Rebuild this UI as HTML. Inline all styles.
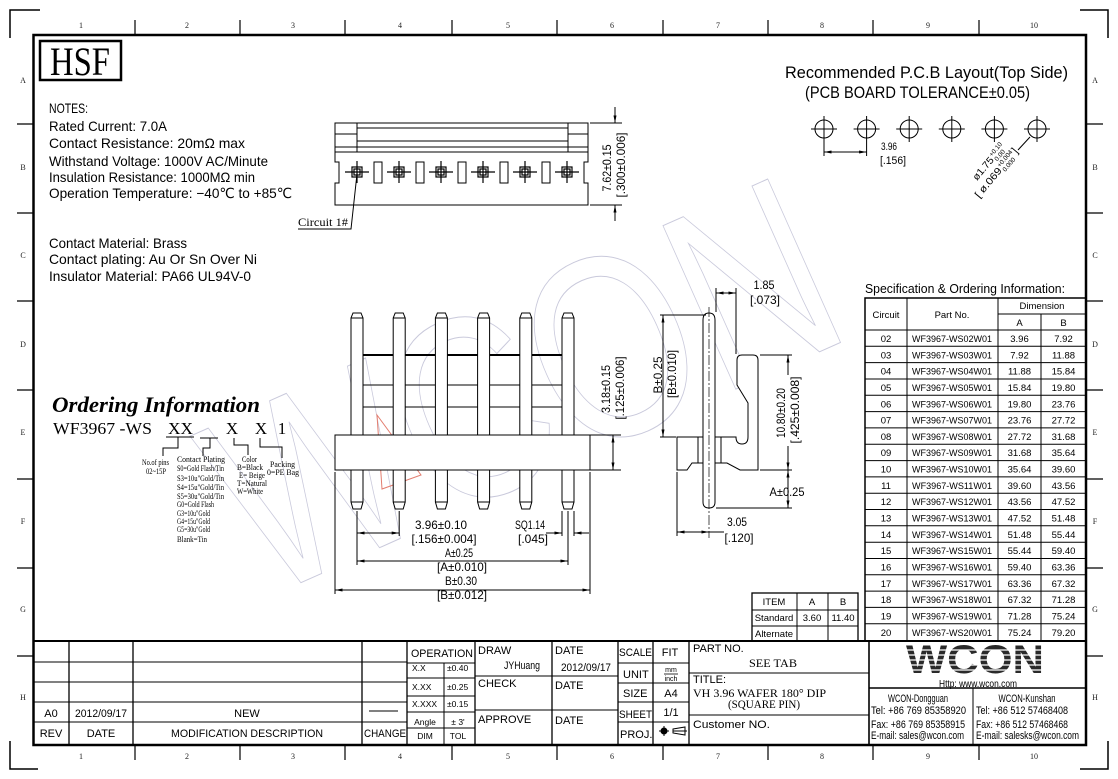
<!DOCTYPE html>
<html><head><meta charset="utf-8"><style>
html,body{margin:0;padding:0;background:#fff;}
svg{display:block;font-family:"Liberation Sans","DejaVu Sans",sans-serif;}
text{fill:#000;}
.s{font-family:"Liberation Serif","DejaVu Serif",serif;}
.z{font-family:"Liberation Serif","DejaVu Serif",serif;font-size:8px;text-anchor:middle;}
.z text{fill:#222;}
.n{font-size:14px;}
.d{font-size:12px;text-anchor:middle;}
.t{font-size:9.5px;text-anchor:middle;}
.o{font-family:"Liberation Serif","DejaVu Serif",serif;font-size:8px;}
.m{text-anchor:middle;}
</style></head><body>
<svg width="1118" height="779" viewBox="0 0 1118 779" xmlns="http://www.w3.org/2000/svg">
<defs>
<marker id="a" viewBox="0 0 10 4" refX="10" refY="2" markerWidth="8" markerHeight="3" orient="auto-start-reverse" markerUnits="userSpaceOnUse"><path d="M0,0 L10,2 L0,4 z" fill="#000"/></marker>
</defs>
<rect width="1118" height="779" fill="#fff"/>

<!-- watermark -->
<g opacity="0.9">
<text transform="translate(262,600) rotate(-24)" font-size="260" textLength="650" lengthAdjust="spacingAndGlyphs" stroke="#c4c4d8" stroke-width="1" style="fill:none">WCON</text>
<polygon points="377,415 421,475 382,489" fill="none" stroke="#e07060" stroke-width="1"/>
</g>

<!-- frame -->
<rect x="33.5" y="35" width="1052.5" height="710" fill="none" stroke="#000" stroke-width="2.5"/>
<g stroke="#000" stroke-width="1.5" fill="none">
<path d="M10,38 V10 H40 M1080,10 H1108 V38 M10,741 V769 H38 M1080,769 H1108 V741"/>
</g>
<g stroke="#000" stroke-width="1.2">
<path d="M135,20 V35 M240,20 V35 M345,20 V35 M452,20 V35 M557,20 V35 M663,20 V35 M768,20 V35 M873,20 V35 M979,20 V35"/>
<path d="M135,745 V760 M240,745 V760 M345,745 V760 M452,745 V760 M557,745 V760 M663,745 V760 M768,745 V760 M873,745 V760 M979,745 V760"/>
<path d="M17,124 H33 M17,213 H33 M17,301 H33 M17,390 H33 M17,479 H33 M17,568 H33 M17,656 H33"/>
<path d="M1086,124 H1103 M1086,213 H1103 M1086,301 H1103 M1086,390 H1103 M1086,479 H1103 M1086,568 H1103 M1086,656 H1103"/>
</g>
<g class="z">
<text x="81" y="28">1</text><text x="187" y="28">2</text><text x="293" y="28">3</text><text x="400" y="28">4</text><text x="508" y="28">5</text><text x="612" y="28">6</text><text x="718" y="28">7</text><text x="822" y="28">8</text><text x="928" y="28">9</text><text x="1034" y="28">10</text>
<text x="81" y="759">1</text><text x="187" y="759">2</text><text x="293" y="759">3</text><text x="400" y="759">4</text><text x="508" y="759">5</text><text x="612" y="759">6</text><text x="718" y="759">7</text><text x="822" y="759">8</text><text x="928" y="759">9</text><text x="1034" y="759">10</text>
<text x="23" y="83">A</text><text x="23" y="170">B</text><text x="23" y="258">C</text><text x="23" y="347">D</text><text x="23" y="435">E</text><text x="23" y="524">F</text><text x="23" y="612">G</text><text x="23" y="700">H</text>
<text x="1095" y="83">A</text><text x="1095" y="170">B</text><text x="1095" y="258">C</text><text x="1095" y="347">D</text><text x="1095" y="435">E</text><text x="1095" y="524">F</text><text x="1095" y="612">G</text><text x="1095" y="700">H</text>
</g>

<!-- HSF -->
<rect x="40" y="41" width="81" height="39" fill="none" stroke="#000" stroke-width="2.5"/>
<text class="s" x="50" y="75" font-size="40" textLength="60" lengthAdjust="spacingAndGlyphs">HSF</text>

<!-- notes -->
<g class="n">
<text x="49" y="113" textLength="39" lengthAdjust="spacingAndGlyphs">NOTES:</text>
<text x="49" y="131" textLength="118" lengthAdjust="spacingAndGlyphs">Rated Current: 7.0A</text>
<text x="49" y="148" textLength="196" lengthAdjust="spacingAndGlyphs">Contact Resistance: 20mΩ   max</text>
<text x="49" y="166" textLength="219" lengthAdjust="spacingAndGlyphs">Withstand Voltage: 1000V AC/Minute</text>
<text x="49" y="182" textLength="206" lengthAdjust="spacingAndGlyphs">Insulation Resistance: 1000MΩ min</text>
<text x="49" y="198" textLength="243" lengthAdjust="spacingAndGlyphs">Operation Temperature: −40℃ to +85℃</text>
<text x="49" y="248" textLength="138" lengthAdjust="spacingAndGlyphs">Contact Material: Brass</text>
<text x="49" y="264" textLength="208" lengthAdjust="spacingAndGlyphs">Contact plating: Au Or Sn Over Ni</text>
<text x="49" y="281" textLength="202" lengthAdjust="spacingAndGlyphs">Insulator Material: PA66 UL94V-0</text>
</g>

<!-- top view connector -->
<g stroke="#000" fill="none" stroke-width="1">
<path d="M335,123 H588 V162 H584 V183 H588 V205 H335 V183 H339 V162 H335 Z"/>
<path d="M357,123 V152 M568,123 V152 M357,128 H568 M357,141 H568 M335,134 H357 M568,134 H588 M335,147 H588 M335,152 H588"/>
<g stroke-width="1.2">
<rect x="352" y="167" width="10" height="10"/><rect x="354" y="169" width="6" height="6"/><path d="M345,172 H369 M357,161 V183"/>
<rect x="394" y="167" width="10" height="10"/><rect x="396" y="169" width="6" height="6"/><path d="M387,172 H411 M399,161 V183"/>
<rect x="436" y="167" width="10" height="10"/><rect x="438" y="169" width="6" height="6"/><path d="M429,172 H453 M441,161 V183"/>
<rect x="478" y="167" width="10" height="10"/><rect x="480" y="169" width="6" height="6"/><path d="M471,172 H495 M483,161 V183"/>
<rect x="520" y="167" width="10" height="10"/><rect x="522" y="169" width="6" height="6"/><path d="M513,172 H537 M525,161 V183"/>
<rect x="562" y="167" width="10" height="10"/><rect x="564" y="169" width="6" height="6"/><path d="M555,172 H579 M567,161 V183"/>
</g>
<rect x="374" y="162" width="8" height="21"/><rect x="416" y="162" width="8" height="21"/><rect x="458" y="162" width="8" height="21"/><rect x="500" y="162" width="8" height="21"/><rect x="542" y="162" width="8" height="21"/>
<path d="M298,229 H351 L357,174"/>
<path d="M590,123 H622 M590,205 H622"/>
<line x1="615" y1="107" x2="615" y2="123" marker-end="url(#a)"/>
<line x1="615" y1="221" x2="615" y2="205" marker-end="url(#a)"/>
</g>
<text class="s" x="298" y="226" font-size="12" textLength="50" lengthAdjust="spacingAndGlyphs">Circuit 1#</text>
<text class="d" transform="translate(611,168) rotate(-90)" textLength="47" lengthAdjust="spacingAndGlyphs">7.62±0.15</text>
<text class="d" transform="translate(625,165) rotate(-90)" textLength="65" lengthAdjust="spacingAndGlyphs">[.300±0.006]</text>

<!-- PCB layout -->
<text x="785" y="78" font-size="17" textLength="283" lengthAdjust="spacingAndGlyphs">Recommended P.C.B Layout(Top Side)</text>
<text x="805" y="98" font-size="17" textLength="225" lengthAdjust="spacingAndGlyphs">(PCB BOARD TOLERANCE±0.05)</text>
<g stroke="#000" fill="none" stroke-width="1">
<circle cx="824" cy="129" r="9"/><path d="M811,129 H837 M824,116 V156"/>
<circle cx="866.6" cy="129" r="9"/><path d="M853.6,129 H879.6 M866.6,116 V156"/>
<circle cx="909.2" cy="129" r="9"/><path d="M896.2,129 H922.2 M909.2,116 V142"/>
<circle cx="951.8" cy="129" r="9"/><path d="M938.8,129 H964.8 M951.8,116 V142"/>
<circle cx="994.4" cy="129" r="9"/><path d="M981.4,129 H1007.4 M994.4,116 V142"/>
<circle cx="1037" cy="129" r="9"/><path d="M1024,129 H1050 M1037,116 V142"/>
<line x1="824" y1="152" x2="866.6" y2="152" marker-start="url(#a)" marker-end="url(#a)"/>
<path d="M1030,137 L1018,150"/>
</g>
<text x="881" y="150" font-size="11" textLength="16" lengthAdjust="spacingAndGlyphs">3.96</text>
<text x="880" y="164" font-size="11" textLength="26" lengthAdjust="spacingAndGlyphs">[.156]</text>
<g transform="translate(977,181) rotate(-50)">
<text x="0" y="0" font-size="10" textLength="27" lengthAdjust="spacingAndGlyphs">ø1.75</text>
<text x="28" y="-4" font-size="6.5">+0.10</text>
<text x="28" y="3" font-size="6.5">0.00</text>
<text x="-12" y="13" font-size="10" textLength="36" lengthAdjust="spacingAndGlyphs">[ ø.069</text>
<text x="25" y="9" font-size="6.5">+0.004</text>
<text x="25" y="16" font-size="6.5">0.000</text>
<text x="46" y="13" font-size="11">]</text>
</g>

<!-- ordering information -->
<text class="s" x="52" y="412" font-size="22" font-weight="bold" font-style="italic" textLength="208" lengthAdjust="spacingAndGlyphs">Ordering Information</text>
<g class="s" font-size="17">
<text x="53" y="434" textLength="99" lengthAdjust="spacingAndGlyphs">WF3967 -WS</text>
<text x="168" y="434" textLength="25" lengthAdjust="spacingAndGlyphs">XX</text>
<text x="232" y="434" text-anchor="middle">X</text>
<text x="261" y="434" text-anchor="middle">X</text>
<text x="282" y="434" text-anchor="middle">1</text>
</g>
<g stroke="#000" fill="none" stroke-width="1">
<path d="M166,437 H194 M178,437 V448 H163 V456"/>
<path d="M200,438 H218 M210,438 V448 H203 V456"/>
<path d="M234,438 V445 H248 V455"/>
<path d="M260,438 V447 H282 V458"/>
</g>
<g class="o">
<text x="142" y="465" textLength="27" lengthAdjust="spacingAndGlyphs">No.of pins</text>
<text x="146" y="474" textLength="20" lengthAdjust="spacingAndGlyphs">02~15P</text>
<text x="177" y="462" textLength="48" lengthAdjust="spacingAndGlyphs">Contact Plating</text>
<text x="177" y="471" textLength="47" lengthAdjust="spacingAndGlyphs">S0=Gold Flash/Tin</text>
<text x="177" y="481" textLength="47" lengthAdjust="spacingAndGlyphs">S3=10u"Gold/Tin</text>
<text x="177" y="490" textLength="47" lengthAdjust="spacingAndGlyphs">S4=15u"Gold/Tin</text>
<text x="177" y="499" textLength="47" lengthAdjust="spacingAndGlyphs">S5=30u"Gold/Tin</text>
<text x="177" y="507" textLength="37" lengthAdjust="spacingAndGlyphs">G0=Gold Flash</text>
<text x="177" y="516" textLength="33" lengthAdjust="spacingAndGlyphs">G3=10u"Gold</text>
<text x="177" y="524" textLength="33" lengthAdjust="spacingAndGlyphs">G4=15u"Gold</text>
<text x="177" y="532" textLength="33" lengthAdjust="spacingAndGlyphs">G5=30u"Gold</text>
<text x="177" y="542" textLength="30" lengthAdjust="spacingAndGlyphs">Blank=Tin</text>
<text x="242" y="462" textLength="15" lengthAdjust="spacingAndGlyphs">Color</text>
<text x="237" y="470" textLength="26" lengthAdjust="spacingAndGlyphs">B=Black</text>
<text x="239" y="478" textLength="26" lengthAdjust="spacingAndGlyphs">E= Beige</text>
<text x="237" y="486" textLength="30" lengthAdjust="spacingAndGlyphs">T=Natural</text>
<text x="237" y="494" textLength="26" lengthAdjust="spacingAndGlyphs">W=White</text>
<text x="270" y="467" textLength="25" lengthAdjust="spacingAndGlyphs">Packing</text>
<text x="267" y="475" textLength="32" lengthAdjust="spacingAndGlyphs">0=PE Bag</text>
</g>

<!-- main front view -->
<g stroke="#000" fill="none" stroke-width="1">
<path d="M363,355 H562" stroke-width="2"/>
<path d="M363,385 H562 M363,407 H562"/>
<g fill="#fff">
<path d="M351,502 V318 L353,313 H361 L363,318 V502 L361,509 H353 Z M351,318 H363 M351,502 H363"/>
<path d="M393.2,502 V318 L395.2,313 H403.2 L405.2,318 V502 L403.2,509 H395.2 Z M393.2,318 H405.2 M393.2,502 H405.2"/>
<path d="M435.4,502 V318 L437.4,313 H445.4 L447.4,318 V502 L445.4,509 H437.4 Z M435.4,318 H447.4 M435.4,502 H447.4"/>
<path d="M477.6,502 V318 L479.6,313 H487.6 L489.6,318 V502 L487.6,509 H479.6 Z M477.6,318 H489.6 M477.6,502 H489.6"/>
<path d="M519.8,502 V318 L521.8,313 H529.8 L531.8,318 V502 L529.8,509 H521.8 Z M519.8,318 H531.8 M519.8,502 H531.8"/>
<path d="M562,502 V318 L564,313 H572 L574,318 V502 L572,509 H564 Z M562,318 H574 M562,502 H574"/>
<rect x="335" y="435" width="255" height="35"/>
</g>
<path d="M590,435 H621 M590,470 H621"/>
<line x1="613" y1="435" x2="613" y2="470" marker-start="url(#a)" marker-end="url(#a)"/>
<path d="M357,511 V565 M399.2,511 V536 M562,511 V536 M574,511 V536 M568,511 V565 M335,472 V594 M590,472 V594"/>
<line x1="357" y1="533" x2="399.2" y2="533" marker-start="url(#a)" marker-end="url(#a)"/>
<line x1="546" y1="533" x2="562" y2="533" marker-end="url(#a)"/>
<line x1="589" y1="533" x2="574" y2="533" marker-end="url(#a)"/>
<line x1="357" y1="561" x2="568" y2="561" marker-start="url(#a)" marker-end="url(#a)"/>
<line x1="335" y1="590" x2="590" y2="590" marker-start="url(#a)" marker-end="url(#a)"/>
</g>
<text class="d" transform="translate(610,389) rotate(-90)" textLength="48" lengthAdjust="spacingAndGlyphs">3.18±0.15</text>
<text class="d" transform="translate(624,388) rotate(-90)" textLength="63" lengthAdjust="spacingAndGlyphs">[.125±0.006]</text>
<text class="d" x="441" y="529" textLength="52" lengthAdjust="spacingAndGlyphs">3.96±0.10</text>
<text class="d" x="444" y="543" textLength="65" lengthAdjust="spacingAndGlyphs">[.156±0.004]</text>
<text class="d" x="530" y="529" textLength="30" lengthAdjust="spacingAndGlyphs">SQ1.14</text>
<text class="d" x="533" y="543" textLength="30" lengthAdjust="spacingAndGlyphs">[.045]</text>
<text class="d" x="459" y="557" textLength="28" lengthAdjust="spacingAndGlyphs">A±0.25</text>
<text class="d" x="462" y="571" textLength="50" lengthAdjust="spacingAndGlyphs">[A±0.010]</text>
<text class="d" x="461" y="585" textLength="32" lengthAdjust="spacingAndGlyphs">B±0.30</text>
<text class="d" x="462" y="599" textLength="50" lengthAdjust="spacingAndGlyphs">[B±0.012]</text>

<!-- side view -->
<g stroke="#000" fill="none" stroke-width="1">
<path fill="#fff" d="M677,437 H736 Q736,444 742,444 Q748,444 748,437 V403 L737,385 V360 Q737,355 742,355 H753 Q758,355 758,360 V470 H740 L727,463 H692 L687,470 H677 Z"/>
<rect x="698" y="437" width="23" height="26"/>
<path fill="#fff" d="M703,502 V320 Q703,313 709,313 Q715,313 715,320 V502 Q715,508 709,508 Q703,508 703,502 Z"/>
<line x1="709" y1="307" x2="709" y2="538" stroke-width="0.7" stroke-dasharray="10,2,2,2"/>
<path d="M716,288 V312 M736,288 V354"/>
<line x1="716" y1="293" x2="736" y2="293" marker-start="url(#a)" marker-end="url(#a)"/>
<path d="M660,315 H706 M660,437 H676"/>
<line x1="663" y1="315" x2="663" y2="437" marker-start="url(#a)" marker-end="url(#a)"/>
<path d="M760,355 H792 M760,470 H792 M716,508 H792"/>
<line x1="788" y1="375" x2="788" y2="355" marker-end="url(#a)"/>
<line x1="788" y1="446" x2="788" y2="470" marker-end="url(#a)"/>
<line x1="788" y1="470" x2="788" y2="508" marker-start="url(#a)" marker-end="url(#a)"/>
<path d="M677,472 V536"/>
<line x1="677" y1="532" x2="709" y2="532" marker-start="url(#a)" marker-end="url(#a)"/>
<path d="M709,532 H724"/>
</g>
<text class="d" x="764" y="289" textLength="21" lengthAdjust="spacingAndGlyphs">1.85</text>
<text class="d" x="765" y="304" textLength="30" lengthAdjust="spacingAndGlyphs">[.073]</text>
<text class="d" transform="translate(662,375) rotate(-90)" textLength="37" lengthAdjust="spacingAndGlyphs">B±0.25</text>
<text class="d" transform="translate(676,374) rotate(-90)" textLength="48" lengthAdjust="spacingAndGlyphs">[B±0.010]</text>
<text class="d" transform="translate(785,413) rotate(-90)" textLength="50" lengthAdjust="spacingAndGlyphs">10.80±0.20</text>
<text class="d" transform="translate(799,410) rotate(-90)" textLength="67" lengthAdjust="spacingAndGlyphs">[.425±0.008]</text>
<text class="d" x="787" y="496" textLength="35" lengthAdjust="spacingAndGlyphs">A±0.25</text>
<text class="d" x="737" y="526" textLength="20" lengthAdjust="spacingAndGlyphs">3.05</text>
<text class="d" x="739" y="542" textLength="29" lengthAdjust="spacingAndGlyphs">[.120]</text>

<!-- ITEM table -->
<g stroke="#000" fill="none" stroke-width="1">
<rect x="752" y="593" width="106" height="48" stroke-width="1.3"/>
<path d="M797,593 V641 M828,593 V641 M752,610 H858 M752,626 H858"/>
</g>
<g class="t">
<text x="774" y="605">ITEM</text><text x="812" y="605">A</text><text x="843" y="605">B</text>
<text x="774" y="621">Standard</text><text x="812" y="621">3.60</text><text x="843" y="621">11.40</text>
<text x="774" y="637">Alternate</text>
</g>

<!-- spec table -->
<text x="865" y="293" font-size="13" textLength="200" lengthAdjust="spacingAndGlyphs">Specification &amp; Ordering Information:</text>
<g stroke="#000" fill="none" stroke-width="1">
<rect x="865" y="298" width="221" height="343" stroke-width="1.5"/>
<path d="M907,298 V641 M998,298 V641 M1041,314 V641 M998,314 H1086 M865,330 H1086"/>
<path d="M865,346.3 H1086 M865,362.6 H1086 M865,379 H1086 M865,395.3 H1086 M865,411.6 H1086 M865,427.9 H1086 M865,444.2 H1086 M865,460.6 H1086 M865,476.9 H1086 M865,493.2 H1086 M865,509.5 H1086 M865,525.8 H1086 M865,542.2 H1086 M865,558.5 H1086 M865,574.8 H1086 M865,591.1 H1086 M865,607.4 H1086 M865,623.8 H1086"/>
</g>
<g class="t">
<text x="886" y="318">Circuit</text><text x="952" y="318">Part No.</text><text x="1042" y="309">Dimension</text><text x="1019.5" y="326">A</text><text x="1063.5" y="326">B</text>
<text x="886" y="342">02</text><text x="952" y="342" textLength="80" lengthAdjust="spacingAndGlyphs">WF3967-WS02W01</text><text x="1019.5" y="342">3.96</text><text x="1063.5" y="342">7.92</text>
<text x="886" y="358.3">03</text><text x="952" y="358.3" textLength="80" lengthAdjust="spacingAndGlyphs">WF3967-WS03W01</text><text x="1019.5" y="358.3">7.92</text><text x="1063.5" y="358.3">11.88</text>
<text x="886" y="374.6">04</text><text x="952" y="374.6" textLength="80" lengthAdjust="spacingAndGlyphs">WF3967-WS04W01</text><text x="1019.5" y="374.6">11.88</text><text x="1063.5" y="374.6">15.84</text>
<text x="886" y="391">05</text><text x="952" y="391" textLength="80" lengthAdjust="spacingAndGlyphs">WF3967-WS05W01</text><text x="1019.5" y="391">15.84</text><text x="1063.5" y="391">19.80</text>
<text x="886" y="407.3">06</text><text x="952" y="407.3" textLength="80" lengthAdjust="spacingAndGlyphs">WF3967-WS06W01</text><text x="1019.5" y="407.3">19.80</text><text x="1063.5" y="407.3">23.76</text>
<text x="886" y="423.6">07</text><text x="952" y="423.6" textLength="80" lengthAdjust="spacingAndGlyphs">WF3967-WS07W01</text><text x="1019.5" y="423.6">23.76</text><text x="1063.5" y="423.6">27.72</text>
<text x="886" y="439.9">08</text><text x="952" y="439.9" textLength="80" lengthAdjust="spacingAndGlyphs">WF3967-WS08W01</text><text x="1019.5" y="439.9">27.72</text><text x="1063.5" y="439.9">31.68</text>
<text x="886" y="456.2">09</text><text x="952" y="456.2" textLength="80" lengthAdjust="spacingAndGlyphs">WF3967-WS09W01</text><text x="1019.5" y="456.2">31.68</text><text x="1063.5" y="456.2">35.64</text>
<text x="886" y="472.6">10</text><text x="952" y="472.6" textLength="80" lengthAdjust="spacingAndGlyphs">WF3967-WS10W01</text><text x="1019.5" y="472.6">35.64</text><text x="1063.5" y="472.6">39.60</text>
<text x="886" y="488.9">11</text><text x="952" y="488.9" textLength="80" lengthAdjust="spacingAndGlyphs">WF3967-WS11W01</text><text x="1019.5" y="488.9">39.60</text><text x="1063.5" y="488.9">43.56</text>
<text x="886" y="505.2">12</text><text x="952" y="505.2" textLength="80" lengthAdjust="spacingAndGlyphs">WF3967-WS12W01</text><text x="1019.5" y="505.2">43.56</text><text x="1063.5" y="505.2">47.52</text>
<text x="886" y="521.5">13</text><text x="952" y="521.5" textLength="80" lengthAdjust="spacingAndGlyphs">WF3967-WS13W01</text><text x="1019.5" y="521.5">47.52</text><text x="1063.5" y="521.5">51.48</text>
<text x="886" y="537.8">14</text><text x="952" y="537.8" textLength="80" lengthAdjust="spacingAndGlyphs">WF3967-WS14W01</text><text x="1019.5" y="537.8">51.48</text><text x="1063.5" y="537.8">55.44</text>
<text x="886" y="554.2">15</text><text x="952" y="554.2" textLength="80" lengthAdjust="spacingAndGlyphs">WF3967-WS15W01</text><text x="1019.5" y="554.2">55.44</text><text x="1063.5" y="554.2">59.40</text>
<text x="886" y="570.5">16</text><text x="952" y="570.5" textLength="80" lengthAdjust="spacingAndGlyphs">WF3967-WS16W01</text><text x="1019.5" y="570.5">59.40</text><text x="1063.5" y="570.5">63.36</text>
<text x="886" y="586.8">17</text><text x="952" y="586.8" textLength="80" lengthAdjust="spacingAndGlyphs">WF3967-WS17W01</text><text x="1019.5" y="586.8">63.36</text><text x="1063.5" y="586.8">67.32</text>
<text x="886" y="603.1">18</text><text x="952" y="603.1" textLength="80" lengthAdjust="spacingAndGlyphs">WF3967-WS18W01</text><text x="1019.5" y="603.1">67.32</text><text x="1063.5" y="603.1">71.28</text>
<text x="886" y="619.4">19</text><text x="952" y="619.4" textLength="80" lengthAdjust="spacingAndGlyphs">WF3967-WS19W01</text><text x="1019.5" y="619.4">71.28</text><text x="1063.5" y="619.4">75.24</text>
<text x="886" y="635.8">20</text><text x="952" y="635.8" textLength="80" lengthAdjust="spacingAndGlyphs">WF3967-WS20W01</text><text x="1019.5" y="635.8">75.24</text><text x="1063.5" y="635.8">79.20</text>
</g>

<!-- title block -->
<g stroke="#000" fill="none" stroke-width="1">
<path d="M33,641 H1086" stroke-width="2"/>
<path d="M69,641 V745 M133,641 V745 M362,641 V745 M407,641 V745 M475,641 V745 M552,641 V745 M618,641 V745 M653,641 V745 M689,641 V745" stroke-width="1.3"/>
<path d="M869,641 V745" stroke-width="1.6"/>
<path d="M444,663 V745 M973,688 V745"/>
<path d="M33,662 H407 M33,682 H407 M33,702 H407 M33,722 H407"/>
<path d="M407,663 H475 M407,678 H475 M407,696 H475 M407,712 H475 M407,728 H475"/>
<path d="M475,676 H618 M475,710 H618"/>
<path d="M618,663 H689 M618,683 H689 M618,702 H689 M618,722 H689"/>
<path d="M689,673 H869 M689,715 H869"/>
<path d="M869,688 H1086" stroke-width="1.6"/>
<path d="M369,711 H398"/>
<path d="M664,674 H678" stroke-width="0.8"/>
</g>
<g font-size="11">
<text class="m" x="51" y="717">A0</text>
<text class="m" x="101" y="717" textLength="52" lengthAdjust="spacingAndGlyphs">2012/09/17</text>
<text class="m" x="247" y="717">NEW</text>
<text class="m" x="51" y="737">REV</text>
<text class="m" x="101" y="737">DATE</text>
<text class="m" x="247" y="737" textLength="152" lengthAdjust="spacingAndGlyphs">MODIFICATION DESCRIPTION</text>
<text class="m" x="385" y="737" textLength="42" lengthAdjust="spacingAndGlyphs">CHANGE</text>
<text x="411" y="657" textLength="62" lengthAdjust="spacingAndGlyphs">OPERATION</text>
<text x="478" y="654">DRAW</text>
<text class="m" x="522" y="669" textLength="36" lengthAdjust="spacingAndGlyphs">JYHuang</text>
<text x="555" y="654">DATE</text>
<text class="m" x="586" y="671" textLength="50" lengthAdjust="spacingAndGlyphs">2012/09/17</text>
<text x="478" y="687">CHECK</text>
<text x="555" y="689">DATE</text>
<text x="478" y="723">APPROVE</text>
<text x="555" y="724">DATE</text>
<text x="619" y="656" textLength="33" lengthAdjust="spacingAndGlyphs">SCALE</text>
<text class="m" x="670" y="656">FIT</text>
<text x="623" y="678">UNIT</text>
<text x="623" y="697">SIZE</text>
<text class="m" x="671" y="697">A4</text>
<text x="619" y="718" textLength="33" lengthAdjust="spacingAndGlyphs">SHEET</text>
<text class="m" x="671" y="716">1/1</text>
<text x="620" y="738">PROJ.</text>
<text x="693" y="652">PART NO.</text>
<text x="693" y="683">TITLE:</text>
<text x="693" y="728" textLength="77" lengthAdjust="spacingAndGlyphs">Customer NO.</text>
</g>
<g font-size="8.5">
<text x="412" y="671">X.X</text><text x="447" y="671">±0.40</text>
<text x="412" y="690">X.XX</text><text x="447" y="690">±0.25</text>
<text x="412" y="707">X.XXX</text><text x="447" y="707">±0.15</text>
<text class="m" x="425" y="725">Angle</text><text class="m" x="458" y="725">± 3'</text>
<text class="m" x="425" y="739">DIM</text><text class="m" x="458" y="739">TOL</text>
<text class="m" x="671" y="672" font-size="7">mm</text>
<text class="m" x="671" y="681" font-size="7">inch</text>
</g>
<g stroke="#000" stroke-width="1" fill="none">
<circle cx="664" cy="731" r="3" fill="#000"/><path d="M659,731 H669 M664,726 V736"/>
<path d="M673,729 L685,727 V735 L673,733 Z M673,731 H687"/>
</g>
<g class="s" font-size="12">
<text class="m" x="773" y="667" textLength="48" lengthAdjust="spacingAndGlyphs">SEE TAB</text>
<text x="693" y="697" textLength="133" lengthAdjust="spacingAndGlyphs">VH 3.96 WAFER 180° DIP</text>
<text x="728" y="708" textLength="72" lengthAdjust="spacingAndGlyphs">(SQUARE PIN)</text>
</g>
<!-- WCON logo -->
<text class="m" x="975" y="673" font-size="40" font-weight="bold" textLength="138" lengthAdjust="spacingAndGlyphs" style="fill:#2a2a2a">WCON</text>
<g stroke="#fff" stroke-width="1.2">
<path d="M903,650 H1048 M903,655 H1048 M903,660 H1048 M903,665 H1048 M903,670 H1048"/>
</g>
<text x="939" y="687" font-size="10" textLength="78" lengthAdjust="spacingAndGlyphs">Http: www.wcon.com</text>
<g font-size="11">
<text class="m" x="918" y="702" textLength="60" lengthAdjust="spacingAndGlyphs">WCON-Dongguan</text>
<text x="871" y="714" textLength="95" lengthAdjust="spacingAndGlyphs">Tel: +86 769 85358920</text>
<text x="871" y="728" textLength="94" lengthAdjust="spacingAndGlyphs">Fax: +86 769 85358915</text>
<text x="871" y="739" textLength="93" lengthAdjust="spacingAndGlyphs">E-mail: sales@wcon.com</text>
<text class="m" x="1027" y="702" textLength="57" lengthAdjust="spacingAndGlyphs">WCON-Kunshan</text>
<text x="976" y="714" textLength="92" lengthAdjust="spacingAndGlyphs">Tel: +86 512 57468408</text>
<text x="976" y="728" textLength="92" lengthAdjust="spacingAndGlyphs">Fax: +86 512 57468468</text>
<text x="976" y="739" textLength="103" lengthAdjust="spacingAndGlyphs">E-mail: salesks@wcon.com</text>
</g>
</svg>
</body></html>
